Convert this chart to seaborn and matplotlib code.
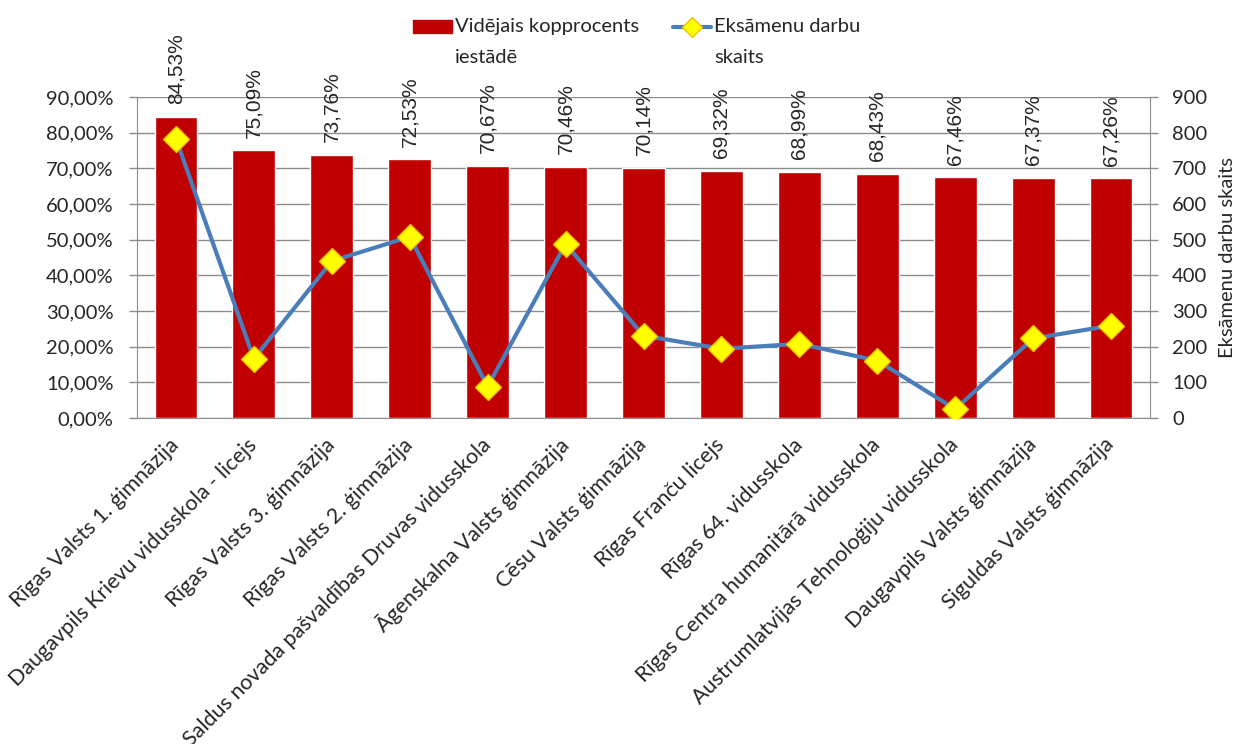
import numpy as np
import pandas as pd
import matplotlib
matplotlib.use("Agg")
import matplotlib.pyplot as plt
import seaborn as sns
from matplotlib.patches import Patch, Rectangle
from matplotlib.lines import Line2D
from matplotlib.legend_handler import HandlerPatch, HandlerLine2D
from matplotlib.ticker import FuncFormatter, MultipleLocator, FixedLocator

# DATA
schools = [
    "Rīgas Valsts 1. ģimnāzija",
    "Daugavpils Krievu vidusskola - licejs",
    "Rīgas Valsts 3. ģimnāzija",
    "Rīgas Valsts 2. ģimnāzija",
    "Saldus novada pašvaldības Druvas vidusskola",
    "Āgenskalna Valsts ģimnāzija",
    "Cēsu Valsts ģimnāzija",
    "Rīgas Franču licejs",
    "Rīgas 64. vidusskola",
    "Rīgas Centra humanitārā vidusskola",
    "Austrumlatvijas Tehnoloģiju vidusskola",
    "Daugavpils Valsts ģimnāzija",
    "Siguldas Valsts ģimnāzija",
]
pct = [84.53, 75.09, 73.76, 72.53, 70.67, 70.46, 70.14, 69.32, 68.99, 68.43, 67.46, 67.37, 67.26]
works = [783, 166, 440, 508, 88, 488, 231, 194, 208, 161, 25, 223, 259]

bar_name = "Vidējais kopprocents\niestādē"
line_name = "Eksāmenu darbu\nskaits"

df = pd.DataFrame({"skola": schools, "pct": pct, "darbi": works})

sns.set_style("white")
plt.rcParams["font.family"] = ["Lato", "DejaVu Sans"]

RED = "#C00000"
BLUE = "#4A7EBB"
GRID = "#8C8C8C"
FS = 14.5


# legend handles sit next to the first line of the two-line labels (Excel style)
def handle_y(height, ydescent, fontsize):
    return height - ydescent - 0.03 * fontsize


def top_patch(legend, orig_handle, xdescent, ydescent, width, height, fontsize):
    ph = 0.62 * fontsize
    yc = handle_y(height, ydescent, fontsize)
    return Rectangle((-xdescent, yc - ph / 2), width, ph)


class TopLine(HandlerLine2D):
    def create_artists(self, legend, orig_handle, xdescent, ydescent,
                       width, height, fontsize, trans):
        arts = super().create_artists(legend, orig_handle, xdescent, ydescent,
                                      width, height, fontsize, trans)
        yc = handle_y(height, ydescent, fontsize)
        for a in arts:
            a.set_ydata(np.full_like(np.asarray(a.get_xdata(), float), yc))
        return arts


fig = plt.figure(figsize=(12.39, 7.44), dpi=100)
ax = fig.add_axes([137 / 1239, 1 - 418 / 744, (1150 - 137) / 1239, (418 - 97) / 744])

# bars - left axis
sns.barplot(data=df, x="skola", y="pct", color=RED, saturation=1, width=0.55, ax=ax, zorder=2)
ax.set_ylim(0, 90)
ax.yaxis.set_major_locator(MultipleLocator(10))
ax.yaxis.set_major_formatter(FuncFormatter(lambda v, p: f"{v:.2f}%".replace(".", ",")))
ax.yaxis.grid(True, color=GRID, lw=1)
ax.set_axisbelow(True)
ax.set_xlabel("")
ax.set_ylabel("")

labels = [f"{v:.2f}%".replace(".", ",") for v in pct]
ax.bar_label(ax.containers[0], labels=labels, rotation=90, padding=9,
             fontsize=15, family="Liberation Sans")

# line - right axis
ax2 = ax.twinx()
sns.lineplot(x=np.arange(len(works)), y=works, ax=ax2, color=BLUE, lw=3,
             marker="D", markersize=13, markerfacecolor="#FFFF00",
             markeredgecolor="#F2C200", markeredgewidth=1, zorder=3)
ax2.set_ylim(0, 900)
ax2.yaxis.set_major_locator(MultipleLocator(100))
ax2.set_ylabel("Eksāmenu darbu skaits", fontsize=FS, labelpad=8)

ax.set_xlim(-0.5, len(schools) - 0.5)
ax.set_xticks(np.arange(len(schools)))
ax.set_xticklabels(schools, rotation=45, ha="right", va="center",
                   rotation_mode="anchor", fontsize=15.5)
ax.xaxis.set_minor_locator(FixedLocator(np.arange(len(schools) + 1) - 0.5))
ax.tick_params(axis="x", which="major", length=0, pad=17)
ax.tick_params(axis="x", which="minor", length=7, color=GRID, width=1)
ax.tick_params(axis="y", length=6, color=GRID, width=1, labelsize=FS, pad=11, left=True)
ax2.tick_params(axis="y", length=6, color=GRID, width=1, labelsize=FS, pad=10, right=True)

for a in (ax, ax2):
    for s in a.spines.values():
        s.set_color(GRID)
    a.spines["top"].set_visible(False)
ax.spines["right"].set_visible(False)
ax2.spines["left"].set_visible(False)
ax2.spines["bottom"].set_visible(False)

bar_handle = Patch(facecolor=RED, edgecolor=RED)
line_handle = Line2D([0], [0], color=BLUE, lw=3, marker="D", markersize=10,
                     markerfacecolor="#FFFF00", markeredgecolor="#F2C200")
leg = fig.legend([bar_handle, line_handle], [bar_name, line_name],
                 loc="upper center", ncol=2, bbox_to_anchor=(0.514, 1.0),
                 frameon=False, fontsize=FS, handlelength=1.9, handleheight=2.2,
                 columnspacing=1.7, handletextpad=0.15,
                 handler_map={Patch: HandlerPatch(patch_func=top_patch),
                              Line2D: TopLine()})
for t in leg.get_texts():
    t.set_linespacing(2.0)

fig.savefig("out.png", dpi=100)
